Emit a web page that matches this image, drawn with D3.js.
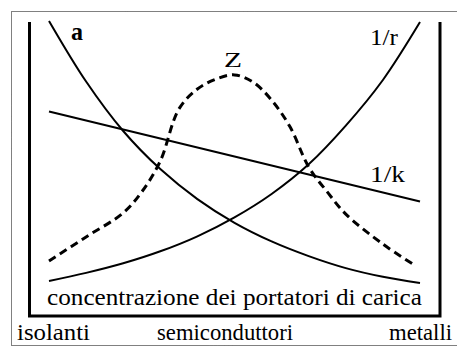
<!DOCTYPE html>
<meta charset="utf-8">
<html>
    <head>
        <style>
            body { margin: 0; background: white; }
        </style>
        <script src="https://d3js.org/d3.v7.min.js"></script>
    </head>
    <body>
        <script>

            // Values (arbitrary units)
            // x = carrier concentration, 0 .. 10
            var xSteps = [0, 1, 2, 3, 4, 5, 6, 7, 8, 9, 10];
            var aValues = [99.7, 79.5, 63, 50.3, 40.3, 32.4, 26.2, 21.3, 17.3, 14.4, 12.3];
            var rValues = [13, 15.7, 18.9, 22.9, 27.9, 34.2, 42, 51.9, 64.8, 80, 99.3];

            var kX = [0, 10];
            var kValues = [69.5, 39.5];

            var zX = [0, 1, 2, 2.5, 3, 3.5, 4, 4.5, 5, 5.5, 6, 6.5, 7, 7.5, 8, 9, 9.8];
            var zValues = [19.7, 27.7, 35.7, 42.7, 53, 70.3, 77, 80.3, 81.7, 79.3, 73.3, 64.3, 51, 42.7, 35.3, 25.3, 18.7];

            var xTitle = "concentrazione dei portatori di carica";
            var materials = ["isolanti", "semiconduttori", "metalli"];

            var serif = "'Liberation Serif', 'Times New Roman', 'DejaVu Serif', serif";

            // Size of the picture
            var width = 457,
                height = 347;

            var svg = d3.select("body")
                .append("svg")
                .attr("width", width)
                .attr("height", height)
                .style("font-family", serif);

            // Scales
            var x = d3.scaleLinear()
                .domain([0, 10])
                .range([49, 420]);

            var y = d3.scaleLinear()
                .domain([0, 100])
                .range([320, 20]);

            // Dotted outer border (right side is cut off in the picture)
            svg.append("rect")
                .attr("x", 11.5)
                .attr("y", 11.5)
                .attr("width", 470)
                .attr("height", 334)
                .attr("fill", "none")
                .attr("stroke", "#000")
                .attr("stroke-width", 1)
                .attr("stroke-dasharray", "1,1");

            // Open frame: left, bottom and right sides
            svg.append("path")
                .attr("d", "M29.5,22 V316 H440 V22")
                .attr("fill", "none")
                .attr("stroke", "#000")
                .attr("stroke-width", 3);

            var line = d3.line()
                .x(function(d) { return x(d[0]); })
                .y(function(d) { return y(d[1]); })
                .curve(d3.curveCatmullRom.alpha(0.5));

            // a and 1/r
            svg.append("path")
                .datum(d3.zip(xSteps, aValues))
                .attr("fill", "none")
                .attr("stroke", "#000")
                .attr("stroke-width", 2)
                .attr("d", line);

            svg.append("path")
                .datum(d3.zip(xSteps, rValues))
                .attr("fill", "none")
                .attr("stroke", "#000")
                .attr("stroke-width", 2)
                .attr("d", line);

            // 1/k straight line
            svg.append("path")
                .datum(d3.zip(kX, kValues))
                .attr("fill", "none")
                .attr("stroke", "#000")
                .attr("stroke-width", 2)
                .attr("d", d3.line().x(function(d) { return x(d[0]); }).y(function(d) { return y(d[1]); }));

            // Z dashed
            svg.append("path")
                .datum(d3.zip(zX, zValues))
                .attr("fill", "none")
                .attr("stroke", "#000")
                .attr("stroke-width", 3)
                .attr("stroke-dasharray", "8,5")
                .attr("d", line);

            // Curve labels
            var labels = [
                {t: "a", x: 71, y: 40, size: 25, bold: true, len: 12},
                {t: "Z", x: 224, y: 67, size: 22, bold: false, len: 18},
                {t: "1/r", x: 370, y: 45, size: 23, bold: false, len: 28},
                {t: "1/k", x: 370, y: 182, size: 23, bold: false, len: 35}
            ];

            svg.selectAll(".lab")
                .data(labels)
                .enter().append("text")
                .attr("class", "lab")
                .attr("font-family", serif)
                .attr("fill", "#000")
                .attr("x", function(d) { return d.x; })
                .attr("y", function(d) { return d.y; })
                .attr("font-size", function(d) { return d.size; })
                .attr("font-weight", function(d) { return d.bold ? "bold" : "normal"; })
                .attr("textLength", function(d) { return d.len; })
                .attr("lengthAdjust", "spacingAndGlyphs")
                .text(function(d) { return d.t; });

            // Axis title inside the frame
            svg.append("text")
                .attr("font-family", serif)
                .attr("fill", "#000")
                .attr("x", 47)
                .attr("y", 305)
                .attr("font-size", 23)
                .attr("textLength", 375)
                .attr("lengthAdjust", "spacingAndGlyphs")
                .text(xTitle);

            // Material classes under the frame
            var matPos = [{x: 17, len: 73}, {x: 157, len: 136}, {x: 389, len: 63}];

            svg.selectAll(".mat")
                .data(materials)
                .enter().append("text")
                .attr("class", "mat")
                .attr("font-family", serif)
                .attr("fill", "#000")
                .attr("x", function(d, i) { return matPos[i].x; })
                .attr("y", 340)
                .attr("font-size", 23)
                .attr("textLength", function(d, i) { return matPos[i].len; })
                .attr("lengthAdjust", "spacingAndGlyphs")
                .text(function(d) { return d; });

        </script>
    </body>
</html>
